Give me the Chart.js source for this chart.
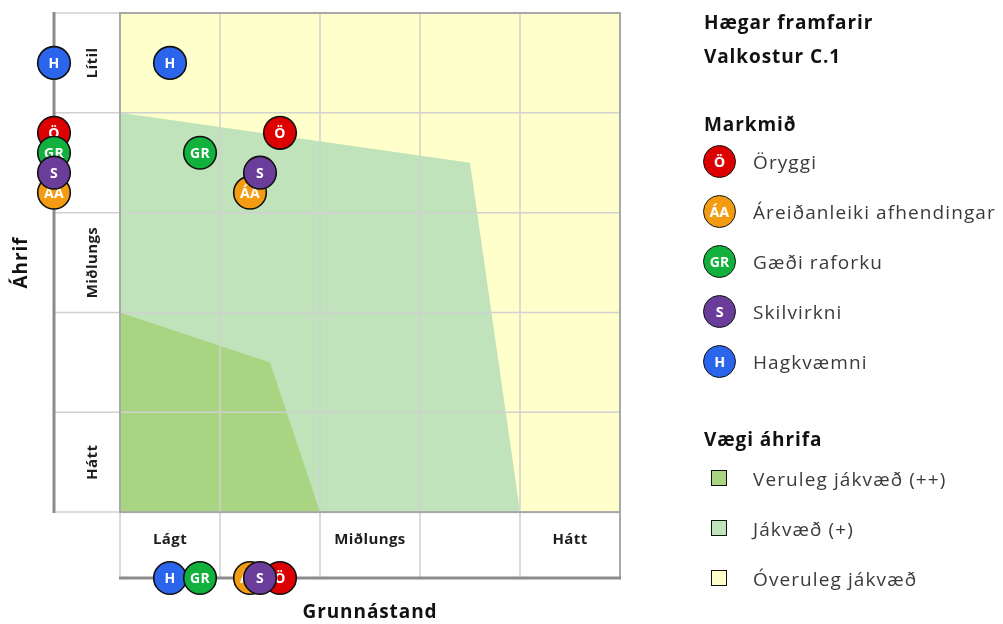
<!DOCTYPE html>
<html>
<head>
<meta charset="utf-8">
<script src="https://cdn.jsdelivr.net/npm/chart.js@4.4.1/dist/chart.umd.min.js"></script>
<style>
  html, body { margin: 0; padding: 0; background: #fff; }
  #wrap { position: relative; width: 1003px; height: 624px; overflow: hidden; font-family: "Open Sans", sans-serif; }
  #chart { position: absolute; left: 0; top: 0; }
  #legend { position: absolute; left: 0; top: 0; width: 1003px; height: 624px; pointer-events: none; }
  .row { position: absolute; height: 34px; line-height: 34px; white-space: nowrap; }
  .head { left: 704px; font-weight: 700; font-size: 19px; letter-spacing: 0.9px; color: #111; }
  .item { left: 753px; font-size: 19px; letter-spacing: 1.1px; color: #3a3a3a; }
  .dot { position: absolute; width: 31px; height: 31px; border: 1.6px solid #111; border-radius: 50%;
         color: #fff; font-weight: 700; font-size: 14px; text-align: center; line-height: 32px; }
  .box { position: absolute; width: 14px; height: 14px; border: 1.6px solid #111; }
</style>
</head>
<body>
<div id="wrap">
  <canvas id="chart" width="1003" height="624"></canvas>
  <div id="legend"></div>
</div>
<script>
// Objectives (Markmið) with their baseline (Grunnástand) and impact (Áhrif) scores
const objectiveNames = ['Öryggi', 'Áreiðanleiki afhendingar', 'Gæði raforku', 'Skilvirkni', 'Hagkvæmni'];
const objectiveCodes = ['Ö', 'ÁA', 'GR', 'S', 'H'];
const objectiveColors = ['#dd0000', '#f39c12', '#12b03c', '#6a3d9a', '#2b65ec'];
const baselineScores = [1.6, 1.3, 0.8, 1.4, 0.5];
const impactScores = [3.8, 3.2, 3.6, 3.4, 4.5];
// stacking: higher numbers are painted first
const objectiveLayer = [4, 3, 2, 1, 5];

// Impact-weight zones (Vægi áhrifa), outlines filled down to zero
const zoneNames = ['Veruleg jákvæð (++)', 'Jákvæð (+)', 'Óveruleg jákvæð'];
const zoneColors = ['#a9d583', '#c0e3bb', '#ffffcc'];
const zoneStrongX = [0, 1.5, 2];
const zoneStrongY = [2, 1.5, 0];
const zonePositiveX = [0, 3.5, 4];
const zonePositiveY = [4, 3.5, 0];
const zoneMinorX = [0, 5];
const zoneMinorY = [5, 5];

// Band labels, listed from the lowest band upwards / from left to right
const impactBandLabels = ['Hátt', '', 'Miðlungs', '', 'Lítil'];
const baselineBandLabels = ['Lágt', '', 'Miðlungs', '', 'Hátt'];
const gridSteps = [0, 1, 2, 3, 4, 5];

const titleLines = ['Hægar framfarir', 'Valkostur C.1'];
const objectivesTitle = 'Markmið';
const zonesTitle = 'Vægi áhrifa';
const xTitle = 'Grunnástand';
const yTitle = 'Áhrif';

const FONT = '"Open Sans", sans-serif';
const AXIS_MIN = -0.66;
const AXIS_MAX = 5;

const pts = (xs, ys) => xs.map((v, i) => ({ x: v, y: ys[i] }));

const zoneDatasets = [
  { pts: pts(zoneStrongX, zoneStrongY), layer: 10 },
  { pts: pts(zonePositiveX, zonePositiveY), layer: 20 },
  { pts: pts(zoneMinorX, zoneMinorY), layer: 30 }
].map((z, i) => ({
  type: 'line',
  label: zoneNames[i],
  data: z.pts,
  order: z.layer,
  fill: 'origin',
  backgroundColor: zoneColors[i],
  borderWidth: 0,
  borderColor: 'rgba(0,0,0,0)',
  pointRadius: 0,
  tension: 0
}));

const objectiveDatasets = objectiveNames.map((name, i) => ({
  type: 'scatter',
  label: name,
  code: objectiveCodes[i],
  order: objectiveLayer[i],
  clip: false,
  data: [
    { x: baselineScores[i], y: impactScores[i] },
    { x: AXIS_MIN, y: impactScores[i] },
    { x: baselineScores[i], y: AXIS_MIN }
  ],
  pointRadius: 16.3,
  pointHoverRadius: 16.3,
  pointBackgroundColor: objectiveColors[i],
  pointBorderColor: '#111',
  pointBorderWidth: 1.6
}));

function strokeLine(ctx, x1, y1, x2, y2) {
  ctx.beginPath();
  ctx.moveTo(x1, y1);
  ctx.lineTo(x2, y2);
  ctx.stroke();
}

function setSpacing(ctx, px) {
  if ('letterSpacing' in ctx) ctx.letterSpacing = px + 'px';
}

// Grid, frame, axis lines, band labels and axis titles
const matrixPlugin = {
  id: 'matrix',
  beforeDatasetsDraw(chart) {
    const { ctx, chartArea: a, scales: { x, y } } = chart;
    const x0 = x.getPixelForValue(0), x5 = x.getPixelForValue(5);
    const y0 = y.getPixelForValue(0), y5 = y.getPixelForValue(5);
    ctx.save();
    ctx.lineCap = 'butt';
    ctx.strokeStyle = '#d0d0d0';
    ctx.lineWidth = 1.5;
    gridSteps.forEach(v => {
      const px = x.getPixelForValue(v);
      strokeLine(ctx, px, y5, px, a.bottom);
      const py = y.getPixelForValue(v);
      strokeLine(ctx, a.left, py, x5, py);
    });
    ctx.strokeStyle = '#a8a8a8';
    ctx.lineWidth = 2;
    ctx.strokeRect(x0, y5, x5 - x0, y0 - y5);
    strokeLine(ctx, x5, y0, x5, a.bottom);

    ctx.strokeStyle = '#8c8c8c';
    ctx.lineWidth = 3;
    strokeLine(ctx, a.left, y5 - 1, a.left, y0 + 1);
    strokeLine(ctx, x0 - 1, a.bottom, x5 + 1, a.bottom);

    ctx.fillStyle = '#1e1e1e';
    ctx.font = '700 15px ' + FONT;
    setSpacing(ctx, 0.4);
    ctx.textAlign = 'center';
    ctx.textBaseline = 'middle';
    baselineBandLabels.forEach((t, i) => {
      if (!t) return;
      ctx.fillText(t, x.getPixelForValue(i + 0.5), y0 + 28);
    });
    impactBandLabels.forEach((t, i) => {
      if (!t) return;
      ctx.save();
      ctx.translate(x0 - 27, y.getPixelForValue(i + 0.5));
      ctx.rotate(-Math.PI / 2);
      ctx.fillText(t, 0, 0);
      ctx.restore();
    });

    ctx.fillStyle = '#111';
    ctx.font = '700 19px ' + FONT;
    setSpacing(ctx, 0.9);
    ctx.fillText(xTitle, (x0 + x5) / 2, 613);
    ctx.save();
    ctx.translate(22, (y5 + y0) / 2);
    ctx.rotate(-Math.PI / 2);
    ctx.fillText(yTitle, 0, 0);
    ctx.restore();
    ctx.restore();
  },
  afterDatasetDraw(chart, args) {
    const ds = chart.data.datasets[args.index];
    if (!ds.code) return;
    const ctx = chart.ctx;
    ctx.save();
    ctx.fillStyle = '#fff';
    ctx.font = '700 14px ' + FONT;
    setSpacing(ctx, 0.3);
    ctx.textAlign = 'center';
    ctx.textBaseline = 'middle';
    args.meta.data.forEach(pt => ctx.fillText(ds.code, pt.x, pt.y + 1));
    ctx.restore();
  }
};

new Chart(document.getElementById('chart'), {
  type: 'scatter',
  data: { datasets: [...objectiveDatasets, ...zoneDatasets] },
  options: {
    responsive: false,
    animation: false,
    devicePixelRatio: 1,
    events: [],
    layout: { autoPadding: false, padding: { left: 54, top: 13, right: 383, bottom: 46 } },
    scales: {
      x: { type: 'linear', min: AXIS_MIN, max: AXIS_MAX, display: false },
      y: { type: 'linear', min: AXIS_MIN, max: AXIS_MAX, display: false }
    },
    plugins: {
      legend: { display: false },
      tooltip: { enabled: false },
      filler: { drawTime: 'beforeDraw' }
    }
  },
  plugins: [matrixPlugin]
});

// Legend panel
const legend = document.getElementById('legend');
function addRow(cls, text, cy) {
  const d = document.createElement('div');
  d.className = 'row ' + cls;
  d.style.top = (cy - 17) + 'px';
  d.textContent = text;
  legend.appendChild(d);
}
addRow('head', titleLines[0], 22);
addRow('head', titleLines[1], 56);
addRow('head', objectivesTitle, 124);
objectiveNames.forEach((name, i) => {
  const cy = 162 + i * 50;
  const dot = document.createElement('div');
  dot.className = 'dot';
  dot.style.left = (720 - 17) + 'px';
  dot.style.top = (cy - 17) + 'px';
  dot.style.background = objectiveColors[i];
  dot.textContent = objectiveCodes[i];
  legend.appendChild(dot);
  addRow('item', name, cy);
});
addRow('head', zonesTitle, 439);
zoneNames.forEach((name, i) => {
  const cy = 479 + i * 50;
  const b = document.createElement('div');
  b.className = 'box';
  b.style.left = (720 - 8.6) + 'px';
  b.style.top = (cy - 8.6) + 'px';
  b.style.background = zoneColors[i];
  legend.appendChild(b);
  addRow('item', name, cy);
});
</script>
</body>
</html>
